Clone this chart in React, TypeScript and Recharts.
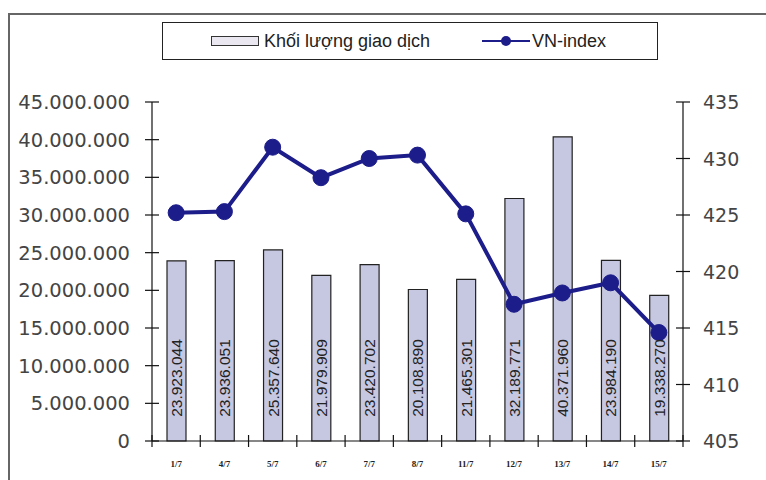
import React from "react"
import {
  ComposedChart,
  Bar,
  Line,
  XAxis,
  YAxis,
  LabelList,
} from "recharts"

const days = ["1/7", "4/7", "5/7", "6/7", "7/7", "8/7", "11/7", "12/7", "13/7", "14/7", "15/7"]
const volume = [
  23923044, 23936051, 25357640, 21979909, 23420702, 20108890, 21465301, 32189771,
  40371960, 23984190, 19338270,
]
const vnIndex = [425.2, 425.3, 431.0, 428.3, 430.0, 430.3, 425.1, 417.1, 418.1, 419.0, 414.6]
const volumeTicks = [0, 5000000, 10000000, 15000000, 20000000, 25000000, 30000000, 35000000, 40000000, 45000000]
const indexTicks = [405, 410, 415, 420, 425, 430, 435]

const data = days.map((day, i) => ({ day, volume: volume[i], index: vnIndex[i] }))

const W = 766
const H = 480
const PLOT_LEFT = 152
const PLOT_RIGHT = 683
const BAND = (PLOT_RIGHT - PLOT_LEFT) / days.length
const NAVY = "#1c1c8a"

// 23923044 -> "23.923.044"
const dotted = (v: number) => String(Math.round(v)).replace(/\B(?=(\d{3})+(?!\d))/g, ".")

const LeftTick = (props: any) => {
  const { x, y, payload } = props
  return (
    <g>
      <line x1={x - 7} x2={x + 7} y1={y} y2={y} stroke="#111" strokeWidth={1.2} />
      <text x={x - 22} y={y} dy={7} textAnchor="end" fontSize={19.5} fill="#444" fontFamily="DejaVu Sans">
        {payload.value === 0 ? "0" : dotted(payload.value)}
      </text>
    </g>
  )
}

const RightTick = (props: any) => {
  const { x, y, payload } = props
  return (
    <g>
      <line x1={x - 7} x2={x + 7} y1={y} y2={y} stroke="#111" strokeWidth={1.2} />
      <text x={x + 20} y={y} dy={7} textAnchor="start" fontSize={19} fill="#444" fontFamily="DejaVu Sans">
        {payload.value}
      </text>
    </g>
  )
}

const DayTick = (props: any) => {
  const { x, y, payload, index } = props
  return (
    <g>
      <line x1={x - BAND / 2} x2={x - BAND / 2} y1={y - 6} y2={y + 6} stroke="#111" strokeWidth={1.2} />
      {index === days.length - 1 && (
        <line x1={x + BAND / 2} x2={x + BAND / 2} y1={y - 6} y2={y + 6} stroke="#111" strokeWidth={1.2} />
      )}
      <text
        x={x}
        y={y + 26}
        textAnchor="middle"
        fontSize={9}
        fontWeight="bold"
        fill="#222"
        fontFamily="Liberation Serif"
      >
        {payload.value}
      </text>
    </g>
  )
}

// value written upright in the lower part of each bar
const BarValue = (props: any) => {
  const { x, y, width, height, value } = props
  const cx = x + width / 2
  const cy = y + height - 63
  return (
    <text
      x={cx}
      y={cy}
      transform={`rotate(-90 ${cx} ${cy})`}
      textAnchor="middle"
      dominantBaseline="central"
      fontSize={15.5}
      fill="#222"
      fontFamily="Liberation Sans Narrow, Liberation Sans"
    >
      {dotted(value)}
    </text>
  )
}

const LegendBox = () => (
  <div
    style={{
      position: "absolute",
      left: 162,
      top: 22,
      boxSizing: "border-box",
      width: 496,
      height: 38,
      border: "1.5px solid #222",
      background: "#fff",
      display: "flex",
      alignItems: "center",
      fontFamily: "Liberation Sans",
      fontSize: 18,
      color: "#222",
    }}
  >
    <div style={{ width: 48 }} />
    <div style={{ width: 46, height: 8, border: "1px solid #333", background: "#ebe7f0", marginRight: 5 }} />
    <span>Khối lượng giao dịch</span>
    <div style={{ width: 52 }} />
    <svg width={48} height={16} style={{ marginRight: 2 }}>
      <line x1={0} x2={48} y1={8} y2={8} stroke={NAVY} strokeWidth={2} />
      <circle cx={24} cy={8} r={5} fill={NAVY} />
    </svg>
    <span>VN-index</span>
  </div>
)

export default function App() {
  return (
    <div style={{ position: "absolute", left: 0, top: 0, width: W, height: H, background: "#fff", overflow: "hidden" }}>
      <div
        style={{
          position: "absolute",
          left: 8,
          top: 13,
          width: W,
          height: H,
          borderLeft: "2px solid #666",
          borderTop: "2px solid #666",
        }}
      />
      <ComposedChart
        width={W}
        height={H}
        data={data}
        margin={{ top: 102, right: 8, bottom: 8, left: 8 }}
        style={{ position: "absolute", left: 0, top: 0 }}
      >
        <XAxis
          dataKey="day"
          height={31}
          tickSize={0}
          tickMargin={0}
          tickLine={false}
          axisLine={{ stroke: "#111", strokeWidth: 1.2 }}
          tick={<DayTick />}
          interval={0}
        />
        <YAxis
          yAxisId="vol"
          width={144}
          domain={[0, 45000000]}
          ticks={volumeTicks}
          tickSize={0}
          tickMargin={0}
          tickLine={false}
          axisLine={{ stroke: "#111", strokeWidth: 1.2 }}
          tick={<LeftTick />}
          interval={0}
        />
        <YAxis
          yAxisId="idx"
          orientation="right"
          width={75}
          domain={[405, 435]}
          ticks={indexTicks}
          tickSize={0}
          tickMargin={0}
          tickLine={false}
          axisLine={{ stroke: "#111", strokeWidth: 1.2 }}
          tick={<RightTick />}
          interval={0}
        />
        <Bar
          yAxisId="vol"
          dataKey="volume"
          name="Khối lượng giao dịch"
          barSize={19}
          fill="#c6c7e0"
          stroke="#222"
          strokeWidth={1.2}
          isAnimationActive={false}
        >
          <LabelList dataKey="volume" content={<BarValue />} />
        </Bar>
        <Line
          yAxisId="idx"
          dataKey="index"
          name="VN-index"
          stroke={NAVY}
          strokeWidth={4}
          dot={{ r: 8, fill: NAVY, stroke: NAVY, strokeWidth: 1 }}
          isAnimationActive={false}
        />
      </ComposedChart>
      <LegendBox />
    </div>
  )
}
